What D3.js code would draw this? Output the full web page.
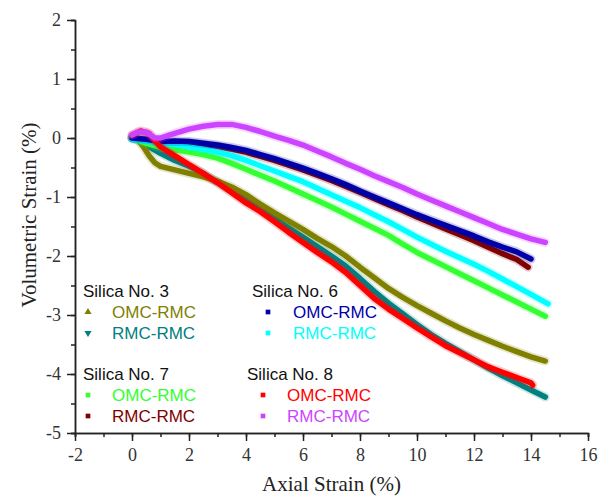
<!DOCTYPE html>
<html>
<head>
<meta charset="utf-8">
<script src="https://cdn.jsdelivr.net/npm/d3@7"></script>
<style>
  body { margin: 0; background: #fff; }
  .legend text { font-family: "Liberation Sans", Arial, sans-serif; font-size: 17px; }
</style>
</head>
<body>
<script>
// volumetric vs axial strain

const xTicks = [-2, 0, 2, 4, 6, 8, 10, 12, 14, 16];
const yTicks = [-5, -4, -3, -2, -1, 0, 1, 2];

// Silica No. 3
const s3Omc = [[0,0.02],[0.2,-0.03],[0.4,-0.15],[0.6,-0.3],[0.8,-0.42],[1,-0.48],[1.5,-0.54],[2,-0.6],[2.5,-0.66],[3,-0.73],[3.5,-0.83],[4,-0.96],[4.5,-1.12],[5,-1.27],[5.5,-1.41],[6,-1.55],[6.5,-1.7],[7,-1.84],[7.5,-2.0],[8,-2.19],[8.5,-2.37],[9,-2.55],[9.5,-2.7],[10,-2.84],[10.5,-2.97],[11,-3.1],[11.5,-3.22],[12,-3.33],[12.5,-3.43],[13,-3.53],[13.5,-3.62],[14,-3.71],[14.5,-3.78]];
const s3Rmc = [[0,0],[0.3,-0.05],[0.6,-0.15],[1,-0.26],[1.5,-0.38],[2,-0.48],[2.5,-0.6],[3,-0.75],[3.5,-0.9],[4,-1.05],[4.5,-1.2],[5,-1.36],[5.5,-1.52],[6,-1.68],[6.5,-1.84],[7,-2.0],[7.5,-2.17],[8,-2.38],[8.5,-2.6],[9,-2.8],[9.5,-2.98],[10,-3.16],[10.5,-3.33],[11,-3.48],[11.5,-3.62],[12,-3.76],[12.5,-3.9],[13,-4.03],[13.5,-4.15],[14,-4.27],[14.5,-4.39]];

// Silica No. 6
const s6Omc = [[0,0],[0.5,-0.02],[1,-0.06],[1.5,-0.05],[2,-0.06],[2.5,-0.09],[3,-0.12],[3.5,-0.16],[4,-0.21],[4.5,-0.28],[5,-0.35],[5.5,-0.43],[6,-0.51],[6.5,-0.6],[7,-0.69],[7.5,-0.79],[8,-0.9],[8.5,-1.0],[9,-1.1],[9.5,-1.2],[10,-1.3],[10.5,-1.39],[11,-1.48],[11.5,-1.57],[12,-1.66],[12.5,-1.76],[13,-1.85],[13.5,-1.93],[14,-2.05]];
const s6Rmc = [[0,-0.02],[0.5,-0.05],[1,-0.09],[1.5,-0.11],[2,-0.15],[2.5,-0.19],[3,-0.24],[3.5,-0.3],[4,-0.38],[4.5,-0.47],[5,-0.56],[5.5,-0.65],[6,-0.74],[6.5,-0.85],[7,-0.96],[7.5,-1.07],[8,-1.18],[8.5,-1.3],[9,-1.42],[9.5,-1.55],[10,-1.68],[10.5,-1.8],[11,-1.92],[11.5,-2.03],[12,-2.14],[12.5,-2.26],[13,-2.39],[13.5,-2.52],[14,-2.65],[14.6,-2.81]];

// Silica No. 7
const s7Omc = [[0,0],[0.5,-0.09],[1,-0.16],[1.5,-0.2],[2,-0.24],[2.5,-0.28],[3,-0.34],[3.5,-0.43],[4,-0.53],[4.5,-0.63],[5,-0.73],[5.5,-0.84],[6,-0.95],[6.5,-1.06],[7,-1.17],[7.5,-1.29],[8,-1.41],[8.5,-1.53],[9,-1.65],[9.5,-1.8],[10,-1.94],[10.5,-2.06],[11,-2.18],[11.5,-2.3],[12,-2.42],[12.5,-2.54],[13,-2.66],[13.5,-2.78],[14,-2.9],[14.5,-3.02]];
const s7Rmc = [[0,0],[0.5,-0.03],[1,-0.07],[2,-0.08],[3,-0.14],[4,-0.24],[5,-0.38],[6,-0.54],[7,-0.72],[8,-0.92],[9,-1.13],[9.5,-1.23],[10,-1.34],[10.5,-1.44],[11,-1.54],[11.5,-1.64],[12,-1.74],[12.5,-1.85],[13,-1.96],[13.5,-2.06],[13.9,-2.19]];

// Silica No. 8
const s8Omc = [[0,0.05],[0.3,0.12],[0.6,0.08],[0.8,-0.05],[1,-0.15],[1.5,-0.3],[2,-0.45],[2.5,-0.6],[3,-0.76],[3.5,-0.93],[4,-1.1],[4.5,-1.25],[5,-1.42],[5.5,-1.6],[6,-1.77],[6.5,-1.94],[7,-2.1],[7.5,-2.28],[8,-2.5],[8.5,-2.72],[9,-2.9],[9.5,-3.06],[10,-3.22],[10.5,-3.37],[11,-3.52],[11.5,-3.64],[12,-3.76],[12.5,-3.88],[13,-3.97],[13.5,-4.06],[14,-4.15],[14.06,-4.19]];
const s8Rmc = [[0,0.05],[0.2,0.1],[0.5,0.1],[0.8,0.0],[1,0.0],[1.3,0.05],[1.5,0.08],[2,0.15],[2.5,0.2],[3,0.23],[3.5,0.23],[4,0.18],[4.5,0.11],[5,0.03],[5.5,-0.04],[6,-0.12],[6.5,-0.22],[7,-0.32],[7.5,-0.43],[8,-0.53],[8.5,-0.64],[9,-0.74],[9.5,-0.84],[10,-0.95],[10.5,-1.05],[11,-1.15],[11.5,-1.25],[12,-1.35],[12.5,-1.45],[13,-1.55],[13.5,-1.63],[14,-1.71],[14.5,-1.77]];

const width = 606, height = 498;
const margin = { top: 20, right: 18, bottom: 65, left: 75 };
const serif = '"Liberation Serif", "Times New Roman", serif';

const svg = d3.select('body').append('svg')
    .attr('width', width)
    .attr('height', height);

const xScale = d3.scaleLinear().domain([-2, 16]).range([margin.left, width - margin.right]);
const yScale = d3.scaleLinear().domain([-5, 2]).range([height - margin.bottom, margin.top]);

function styleAxis(g) {
    g.attr('font-family', serif).attr('font-size', 18);
    g.select('.domain').attr('stroke', '#222').attr('stroke-width', 1.5);
    g.selectAll('.tick line').attr('stroke', '#222').attr('stroke-width', 1.5);
    g.selectAll('.tick text').attr('fill', '#333');
}

// minor ticks
svg.append('g')
    .attr('transform', 'translate(0,' + (height - margin.bottom) + ')')
    .call(d3.axisBottom(xScale).tickValues(d3.range(-2, 16.1, 1)).tickSize(4).tickFormat(() => ''))
    .call(styleAxis);
svg.append('g')
    .attr('transform', 'translate(' + margin.left + ',0)')
    .call(d3.axisLeft(yScale).tickValues(d3.range(-5, 2.01, 0.5)).tickSize(4).tickFormat(() => ''))
    .call(styleAxis);

// major ticks with labels
svg.append('g')
    .attr('transform', 'translate(0,' + (height - margin.bottom) + ')')
    .call(d3.axisBottom(xScale).tickValues(xTicks).tickSize(8).tickSizeOuter(0).tickPadding(7)
        .tickFormat(d => String(d)))
    .call(styleAxis);
svg.append('g')
    .attr('transform', 'translate(' + margin.left + ',0)')
    .call(d3.axisLeft(yScale).tickValues(yTicks).tickSize(8).tickSizeOuter(0).tickPadding(6)
        .tickFormat(d => String(d)))
    .call(styleAxis);

svg.append('text')
    .attr('x', (xScale.range()[0] + xScale.range()[1]) / 2)
    .attr('y', 491)
    .attr('text-anchor', 'middle')
    .attr('font-family', serif)
    .attr('font-size', 21)
    .attr('fill', '#222')
    .text('Axial Strain (%)');

svg.append('text')
    .attr('transform', 'translate(36,215) rotate(-90)')
    .attr('text-anchor', 'middle')
    .attr('font-family', serif)
    .attr('font-size', 21)
    .attr('fill', '#222')
    .text('Volumetric Strain (%)');

const series = [
    { name: 's7Rmc', data: s7Rmc, color: '#800000' },
    { name: 's3Rmc', data: s3Rmc, color: '#008080' },
    { name: 's3Omc', data: s3Omc, color: '#808000' },
    { name: 's7Omc', data: s7Omc, color: '#33ff33' },
    { name: 's6Rmc', data: s6Rmc, color: '#00ffff' },
    { name: 's6Omc', data: s6Omc, color: '#0000a8' },
    { name: 's8Omc', data: s8Omc, color: '#ff0000' },
    { name: 's8Rmc', data: s8Rmc, color: '#cc44ff' }
];

const line = d3.line()
    .x(d => xScale(d[0]))
    .y(d => yScale(d[1]));

const plot = svg.append('g').attr('id', 'curves');
series.forEach(s => {
    // soft halo for the scattered points around each band
    plot.append('path')
        .datum(s.data)
        .attr('fill', 'none')
        .attr('stroke', s.color)
        .attr('stroke-opacity', 0.2)
        .attr('stroke-width', 9)
        .attr('stroke-linejoin', 'round')
        .attr('stroke-linecap', 'round')
        .attr('d', line);
    plot.append('path')
        .datum(s.data)
        .attr('fill', 'none')
        .attr('stroke', s.color)
        .attr('stroke-width', 5.5)
        .attr('stroke-linejoin', 'round')
        .attr('stroke-linecap', 'round')
        .attr('d', line);
});

// legend
const legendGroups = [
    { title: 'Silica No. 3', tx: 83, ty: 297, mx: 88, lx: 112, rows: [
        { label: 'OMC-RMC', color: '#808000', shape: 'up' },
        { label: 'RMC-RMC', color: '#008080', shape: 'down' }] },
    { title: 'Silica No. 6', tx: 252, ty: 297, mx: 268, lx: 293, rows: [
        { label: 'OMC-RMC', color: '#0000a8', shape: 'sq' },
        { label: 'RMC-RMC', color: '#00ffff', shape: 'sq' }] },
    { title: 'Silica No. 7', tx: 83, ty: 380, mx: 88, lx: 112, rows: [
        { label: 'OMC-RMC', color: '#33ff33', shape: 'sq' },
        { label: 'RMC-RMC', color: '#800000', shape: 'sq' }] },
    { title: 'Silica No. 8', tx: 247, ty: 380, mx: 263, lx: 287, rows: [
        { label: 'OMC-RMC', color: '#ff0000', shape: 'sq' },
        { label: 'RMC-RMC', color: '#cc44ff', shape: 'sq' }] }
];

const legend = svg.append('g').attr('class', 'legend');
legendGroups.forEach(g => {
    legend.append('text')
        .attr('x', g.tx)
        .attr('y', g.ty)
        .attr('fill', '#111')
        .text(g.title);
    g.rows.forEach((r, i) => {
        const cy = g.ty + 15 + i * 21;
        const sym = d3.symbol(r.shape === 'sq' ? d3.symbolSquare : d3.symbolTriangle, 22)();
        legend.append('path')
            .attr('d', sym)
            .attr('fill', r.color)
            .attr('transform', 'translate(' + g.mx + ',' + cy + ')' + (r.shape === 'down' ? ' rotate(180)' : ''));
        legend.append('text')
            .attr('x', g.lx)
            .attr('y', cy + 6)
            .attr('fill', r.color)
            .text(r.label);
    });
});
</script>
</body>
</html>
